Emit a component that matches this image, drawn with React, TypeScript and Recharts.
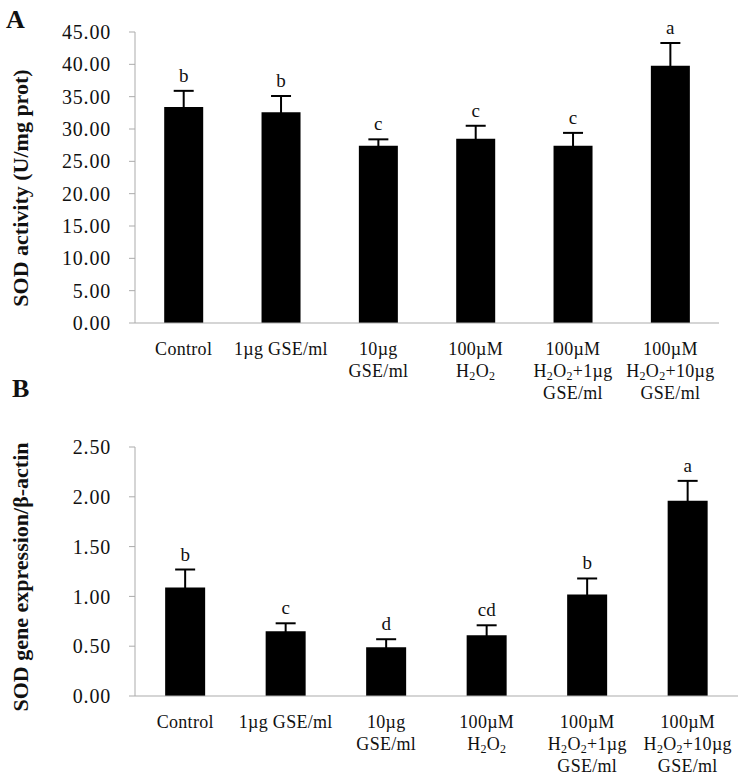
import { Bar, ComposedChart, ErrorBar, LabelList, Line, XAxis, YAxis } from "recharts";

const SERIF = "'Liberation Serif', 'Times New Roman', serif";
const AXIS = "#ababab";
const INK = "#111";

// categories (also used as x tick labels, "\n" = line break, "_2" = subscript)
const categories = [
  "Control",
  "1µg GSE/ml",
  "10µg\nGSE/ml",
  "100µM\nH_2O_2",
  "100µM\nH_2O_2+1µg\nGSE/ml",
  "100µM\nH_2O_2+10µg\nGSE/ml",
];

// panel A: SOD activity (U/mg prot)
const activityMean = [33.4, 32.6, 27.4, 28.5, 27.4, 39.8];
const activityErr = [2.5, 2.5, 1.0, 2.0, 2.0, 3.5];
const activityLetters = ["b", "b", "c", "c", "c", "a"];
const activityTicks = [0, 5, 10, 15, 20, 25, 30, 35, 40, 45];

// panel B: SOD gene expression / beta-actin
const geneMean = [1.09, 0.65, 0.49, 0.61, 1.02, 1.96];
const geneErr = [0.18, 0.08, 0.08, 0.1, 0.16, 0.2];
const geneLetters = ["b", "c", "d", "cd", "b", "a"];
const geneTicks = [0, 0.5, 1, 1.5, 2, 2.5];

const boundaryTicks = categories.map((_, i) => i).concat(categories.length);

const build = (mean: number[], err: number[], letters: string[]) =>
  categories.map((name, i) => ({
    name,
    value: mean[i],
    err: err[i],
    top: mean[i] + err[i],
    letter: letters[i],
  }));

const activityData = build(activityMean, activityErr, activityLetters);
const geneData = build(geneMean, geneErr, geneLetters);

function renderLine(line: string) {
  const parts = line.split(/_(\d)/);
  const out: any[] = [];
  let low = false;
  parts.forEach((p, i) => {
    if (!p) return;
    if (i % 2 === 1) {
      out.push(
        <tspan key={i} dy={low ? 0 : 3} fontSize={12}>
          {p}
        </tspan>
      );
      low = true;
    } else {
      out.push(
        <tspan key={i} dy={low ? -3 : 0}>
          {p}
        </tspan>
      );
      low = false;
    }
  });
  return out;
}

function CategoryTick(props: any) {
  const { x, y, payload } = props;
  const lines = String(payload.value).split("\n");
  return (
    <g>
      {lines.map((l, i) => (
        <text
          key={i}
          x={x}
          y={y + 32 + i * 22}
          textAnchor="middle"
          fill={INK}
          fontSize={18}
          letterSpacing={0.3}
          fontFamily={SERIF}
        >
          {renderLine(l)}
        </text>
      ))}
    </g>
  );
}

function Panel(props: {
  data: any[];
  width: number;
  height: number;
  margin: any;
  yMax: number;
  yTicks: number[];
}) {
  const { data, width, height, margin, yMax, yTicks } = props;
  return (
    <ComposedChart
      width={width}
      height={height}
      data={data}
      margin={margin}
      barCategoryGap="30%"
    >
      <XAxis
        xAxisId="bounds"
        type="number"
        domain={[0, categories.length]}
        ticks={boundaryTicks}
        allowDataOverflow
        height={0}
        tick={false}
        axisLine={false}
        tickLine={{ stroke: AXIS }}
        tickSize={5}
      />
      <XAxis
        dataKey="name"
        type="category"
        interval={0}
        height={70}
        tickSize={0}
        tickMargin={0}
        tickLine={false}
        axisLine={{ stroke: AXIS }}
        tick={(p: any) => <CategoryTick {...p} />}
      />
      <YAxis
        type="number"
        domain={[0, yMax]}
        ticks={yTicks}
        interval={0}
        width={135}
        tickSize={6}
        tickMargin={18}
        axisLine={{ stroke: AXIS }}
        tickLine={{ stroke: AXIS }}
        tickFormatter={(v: number) => v.toFixed(2)}
        tick={{ fill: INK, fontSize: 20, fontFamily: SERIF, letterSpacing: 0.8 }}
      />
      <Bar dataKey="value" fill="#000" isAnimationActive={false}>
        <ErrorBar dataKey="err" width={10} strokeWidth={2} stroke="#000" direction="y" />
      </Bar>
      <Line
        dataKey="top"
        stroke="none"
        dot={false}
        activeDot={false}
        isAnimationActive={false}
        legendType="none"
      >
        <LabelList
          dataKey="letter"
          position="top"
          offset={9}
          fill={INK}
          fontSize={19}
          fontFamily={SERIF}
        />
      </Line>
    </ComposedChart>
  );
}

export default function App() {
  return (
    <div
      style={{
        position: "absolute",
        left: 0,
        top: 0,
        width: 747,
        height: 777,
        background: "#fff",
      }}
    >
      <div style={{ position: "absolute", left: 0, top: 0 }}>
        <Panel
          data={activityData}
          width={747}
          height={410}
          margin={{ top: 32, right: 28, bottom: 17, left: 0 }}
          yMax={45}
          yTicks={activityTicks}
        />
      </div>
      <div style={{ position: "absolute", left: 0, top: 390 }}>
        <Panel
          data={geneData}
          width={747}
          height={387}
          margin={{ top: 57, right: 9, bottom: 11, left: 0 }}
          yMax={2.5}
          yTicks={geneTicks}
        />
      </div>
      <svg
        width={747}
        height={777}
        style={{ position: "absolute", left: 0, top: 0, pointerEvents: "none" }}
      >
        <g fontFamily={SERIF} fontWeight="bold" fill={INK}>
          <text x={6} y={28} fontSize={26}>
            A
          </text>
          <text x={12} y={397} fontSize={26}>
            B
          </text>
          <text
            x={28}
            y={188}
            fontSize={22}
            textAnchor="middle"
            transform="rotate(-90, 28, 188)"
          >
            SOD activity (U/mg prot)
          </text>
          <text
            x={28}
            y={577}
            fontSize={22}
            textAnchor="middle"
            transform="rotate(-90, 28, 577)"
          >
            SOD gene expression/β-actin
          </text>
        </g>
      </svg>
    </div>
  );
}
